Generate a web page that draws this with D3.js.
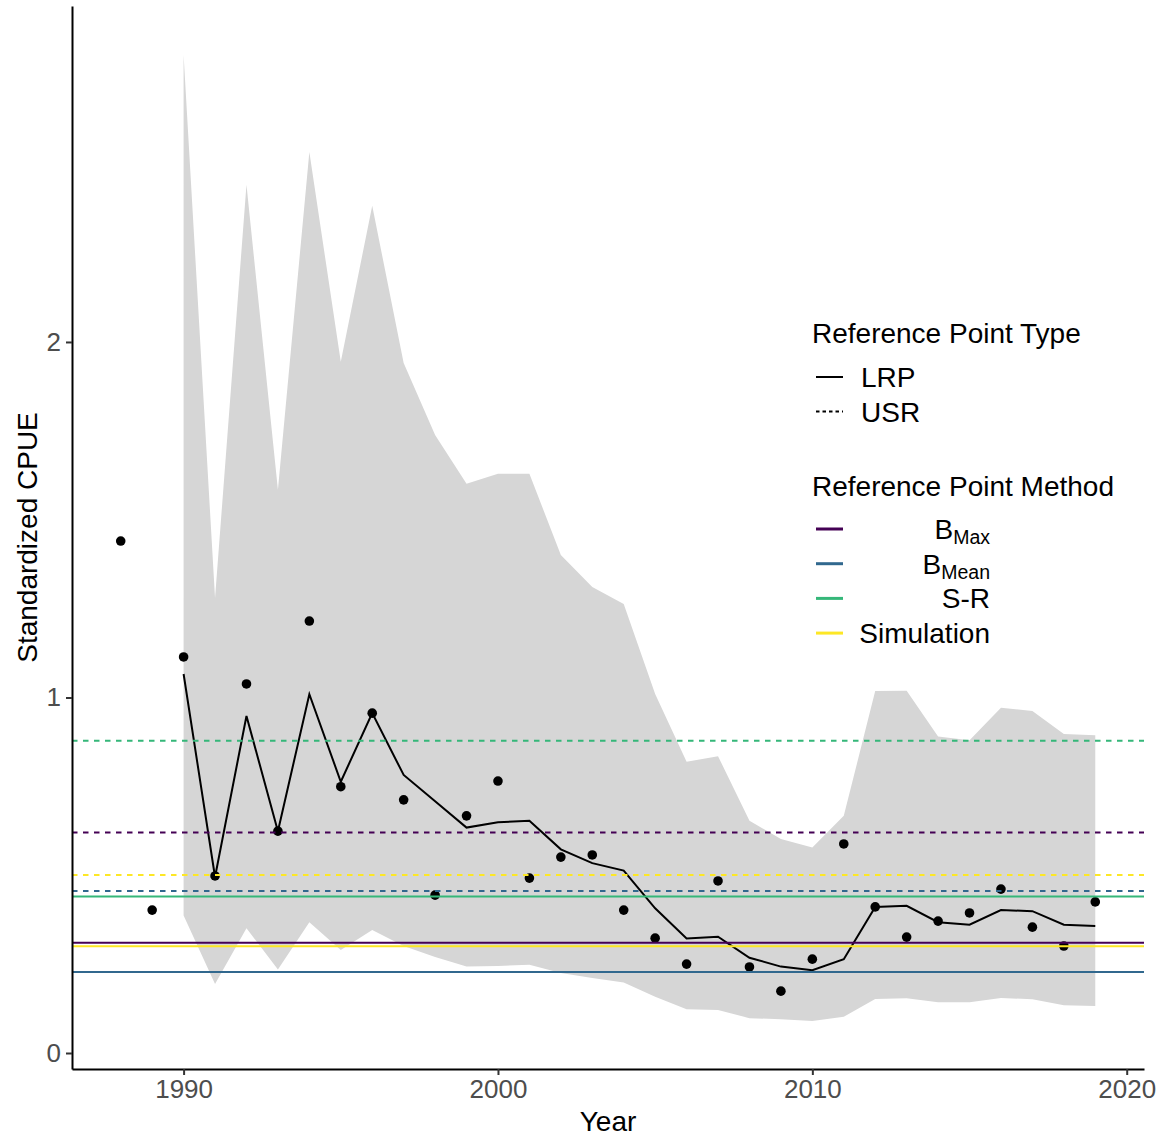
<!DOCTYPE html>
<html lang="en">
<head>
<meta charset="utf-8">
<title>Standardized CPUE</title>
<script src="https://d3js.org/d3.v7.min.js"></script>
<style>
  body { margin: 0; background: #fff; }
  text { font-family: "Liberation Sans", Arial, sans-serif; }
</style>
</head>
<body>
<div id="chart"></div>
<script>
// observed index
var obsYears = [1988, 1989, 1990, 1991, 1992, 1993, 1994, 1995, 1996, 1997, 1998, 1999, 2000, 2001, 2002, 2003,
                2004, 2005, 2006, 2007, 2008, 2009, 2010, 2011, 2012, 2013, 2014, 2015, 2016, 2017, 2018, 2019];
var obsCpue = [1.440, 0.402, 1.114, 0.498, 1.038, 0.624, 1.215, 0.749, 0.956, 0.712, 0.444, 0.667, 0.765, 0.492, 0.551, 0.557,
               0.402, 0.323, 0.250, 0.484, 0.242, 0.174, 0.264, 0.588, 0.411, 0.326, 0.371, 0.394, 0.461, 0.354, 0.301, 0.425];

// model fit with interval
var fitYears = [1990, 1991, 1992, 1993, 1994, 1995, 1996, 1997, 1998, 1999, 2000, 2001, 2002, 2003, 2004,
                2005, 2006, 2007, 2008, 2009, 2010, 2011, 2012, 2013, 2014, 2015, 2016, 2017, 2018, 2019];
var fitMid = [1.066, 0.495, 0.948, 0.624, 1.009, 0.763, 0.956, 0.782, 0.708, 0.634, 0.649, 0.653, 0.573, 0.534, 0.513,
              0.407, 0.322, 0.327, 0.268, 0.243, 0.233, 0.264, 0.411, 0.414, 0.368, 0.361, 0.402, 0.399, 0.361, 0.357];
var fitLow = [0.387, 0.194, 0.351, 0.235, 0.368, 0.290, 0.346, 0.301, 0.270, 0.243, 0.245, 0.248, 0.225, 0.211, 0.198,
              0.158, 0.123, 0.121, 0.098, 0.095, 0.090, 0.102, 0.152, 0.154, 0.143, 0.143, 0.155, 0.151, 0.134, 0.132];
var fitHigh = [2.807, 1.280, 2.442, 1.584, 2.534, 1.944, 2.383, 1.941, 1.738, 1.601, 1.629, 1.629, 1.401, 1.311, 1.263,
               1.010, 0.819, 0.835, 0.653, 0.602, 0.578, 0.667, 1.018, 1.019, 0.890, 0.880, 0.971, 0.962, 0.897, 0.894];

// reference points
var methods = ["BMax", "BMean", "S-R", "Simulation"];
var methodColors = ["#440154", "#31688E", "#35B779", "#FDE725"];
var lrpValues = [0.310, 0.228, 0.440, 0.300];
var usrValues = [0.620, 0.456, 0.878, 0.501];
var pointTypes = ["LRP", "USR"];

var xTicks = [1990, 2000, 2010, 2020];
var yTicks = [0, 1, 2];

var width = 1166, height = 1137;
var margin = {top: 6, right: 22, bottom: 68, left: 72};

var svg = d3.select("#chart").append("svg")
    .attr("width", width).attr("height", height);

var x = d3.scaleLinear().domain([1986.45, 2020.55]).range([margin.left, width - margin.right]);
var y = d3.scaleLinear().domain([-0.045, 2.945]).range([height - margin.bottom, margin.top]);
var color = d3.scaleOrdinal().domain(methods).range(methodColors);
var dash = {LRP: null, USR: "5.5,5.5"};

var fit = fitYears.map(function (yr, i) {
    return {year: yr, mid: fitMid[i], low: fitLow[i], high: fitHigh[i]};
});

// ribbon
svg.append("path")
    .datum(fit)
    .attr("fill", "#d6d6d6")
    .attr("d", d3.area()
        .x(function (d) { return x(d.year); })
        .y0(function (d) { return y(d.low); })
        .y1(function (d) { return y(d.high); }));

// fitted line
svg.append("path")
    .datum(fit)
    .attr("fill", "none")
    .attr("stroke", "#000")
    .attr("stroke-width", 2)
    .attr("d", d3.line()
        .x(function (d) { return x(d.year); })
        .y(function (d) { return y(d.mid); }));

// observations
svg.append("g").selectAll("circle")
    .data(obsYears)
    .join("circle")
    .attr("cx", function (d) { return x(d); })
    .attr("cy", function (d, i) { return y(obsCpue[i]); })
    .attr("r", 4.8)
    .attr("fill", "#000");

// reference lines
var refs = [];
methods.forEach(function (m, i) {
    refs.push({method: m, type: "USR", value: usrValues[i]});
    refs.push({method: m, type: "LRP", value: lrpValues[i]});
});
svg.append("g").selectAll("line")
    .data(refs)
    .join("line")
    .attr("x1", x.range()[0])
    .attr("x2", x.range()[1])
    .attr("y1", function (d) { return y(d.value); })
    .attr("y2", function (d) { return y(d.value); })
    .attr("stroke", function (d) { return color(d.method); })
    .attr("stroke-width", 2)
    .attr("stroke-dasharray", function (d) { return dash[d.type]; });

// axes
var xAxis = svg.append("g")
    .attr("transform", "translate(0," + (height - margin.bottom) + ")")
    .call(d3.axisBottom(x).tickValues(xTicks).tickFormat(d3.format("d")).tickSize(6).tickSizeOuter(0).tickPadding(5));
var yAxis = svg.append("g")
    .attr("transform", "translate(" + margin.left + ",0)")
    .call(d3.axisLeft(y).tickValues(yTicks).tickFormat(d3.format("d")).tickSize(6).tickSizeOuter(0).tickPadding(5));

[xAxis, yAxis].forEach(function (a) {
    a.select(".domain").attr("stroke", "#000").attr("stroke-width", 2);
    a.selectAll(".tick line").attr("stroke", "#333").attr("stroke-width", 2);
    a.selectAll(".tick text")
        .attr("fill", "#4d4d4d")
        .style("font-size", "26px")
        .style("font-family", "'Liberation Sans', Arial, sans-serif");
});

svg.append("text")
    .attr("x", (x.range()[0] + x.range()[1]) / 2)
    .attr("y", 1131)
    .attr("text-anchor", "middle")
    .style("font-size", "28px")
    .text("Year");

svg.append("text")
    .attr("transform", "translate(37," + (y.range()[0] + y.range()[1]) / 2 + ") rotate(-90)")
    .attr("text-anchor", "middle")
    .style("font-size", "28px")
    .text("Standardized CPUE");

// legend: type
var leg = svg.append("g");
leg.append("text").attr("x", 812).attr("y", 343)
    .style("font-size", "28px").text("Reference Point Type");
pointTypes.forEach(function (t, i) {
    var cy = 377 + i * 34.5;
    leg.append("line")
        .attr("x1", 816).attr("x2", 843).attr("y1", cy).attr("y2", cy)
        .attr("stroke", "#000").attr("stroke-width", 2)
        .attr("stroke-dasharray", t === "USR" ? "3.5,3" : null);
    leg.append("text").attr("x", 861).attr("y", cy + 10)
        .style("font-size", "28px").text(t);
});

// legend: method
leg.append("text").attr("x", 812).attr("y", 496)
    .style("font-size", "28px").text("Reference Point Method");
var methodLabels = [["B", "Max"], ["B", "Mean"], ["S-R", ""], ["Simulation", ""]];
methods.forEach(function (m, i) {
    var cy = 529 + i * 34.7;
    leg.append("line")
        .attr("x1", 816).attr("x2", 843).attr("y1", cy).attr("y2", cy)
        .attr("stroke", color(m)).attr("stroke-width", 3);
    var t = leg.append("text").attr("x", 990).attr("y", cy + 10)
        .attr("text-anchor", "end")
        .style("font-size", "28px");
    t.append("tspan").text(methodLabels[i][0]);
    if (methodLabels[i][1]) {
        t.append("tspan").attr("dy", 5).style("font-size", "19.5px").text(methodLabels[i][1]);
    }
});
</script>
</body>
</html>
